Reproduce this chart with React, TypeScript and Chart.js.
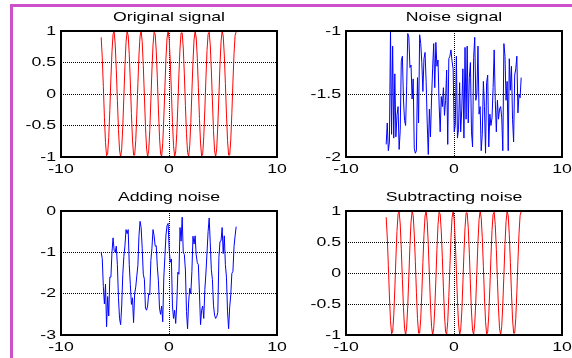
import React, { useEffect, useRef } from "react";
import { Chart, registerables } from "chart.js";

Chart.register(...registerables);

// ---- data ----
const xValues = [
  -6.28, -6.18, -6.08, -5.98, -5.88, -5.78, -5.68, -5.58, -5.48, -5.38,
  -5.28, -5.18, -5.08, -4.98, -4.88, -4.78, -4.68, -4.58, -4.48, -4.38,
  -4.28, -4.18, -4.08, -3.98, -3.88, -3.78, -3.68, -3.58, -3.48, -3.38,
  -3.28, -3.18, -3.08, -2.98, -2.88, -2.78, -2.68, -2.58, -2.48, -2.38,
  -2.28, -2.18, -2.08, -1.98, -1.88, -1.78, -1.68, -1.58, -1.48, -1.38,
  -1.28, -1.18, -1.08, -0.98, -0.88, -0.78, -0.68, -0.58, -0.48, -0.38,
  -0.28, -0.18, -0.08, 0.02, 0.12, 0.22, 0.32, 0.42, 0.52, 0.62,
  0.72, 0.82, 0.92, 1.02, 1.12, 1.22, 1.32, 1.42, 1.52, 1.62,
  1.72, 1.82, 1.92, 2.02, 2.12, 2.22, 2.32, 2.42, 2.52, 2.62,
  2.72, 2.82, 2.92, 3.02, 3.12, 3.22, 3.32, 3.42, 3.52, 3.62,
  3.72, 3.82, 3.92, 4.02, 4.12, 4.22, 4.32, 4.42, 4.52, 4.62,
  4.72, 4.82, 4.92, 5.02, 5.12, 5.22, 5.32, 5.42, 5.52, 5.62,
  5.72, 5.82, 5.92, 6.02, 6.12, 6.22,
];

const originalSignal = [
  0.9, 0.58, 0.12, -0.37, -0.77, -0.98, -0.95, -0.69, -0.26, 0.24,
  0.67, 0.95, 0.99, 0.79, 0.39, -0.1, -0.56, -0.89, -1.0, -0.87,
  -0.52, -0.05, 0.44, 0.82, 0.99, 0.93, 0.63, 0.19, -0.31, -0.73,
  -0.97, -0.97, -0.74, -0.32, 0.17, 0.62, 0.92, 1.0, 0.83, 0.45,
  -0.03, -0.51, -0.86, -1.0, -0.9, -0.58, -0.11, 0.38, 0.78, 0.98,
  0.95, 0.68, 0.25, -0.24, -0.68, -0.95, -0.99, -0.78, -0.38, 0.1,
  0.57, 0.89, 1.0, 0.86, 0.51, 0.04, -0.45, -0.82, -0.99, -0.92,
  -0.63, -0.18, 0.32, 0.73, 0.97, 0.97, 0.73, 0.32, -0.18, -0.63,
  -0.93, -0.99, -0.82, -0.45, 0.04, 0.51, 0.86, 1.0, 0.89, 0.57,
  0.1, -0.39, -0.78, -0.99, -0.95, -0.68, -0.24, 0.25, 0.69, 0.95,
  0.98, 0.78, 0.38, -0.11, -0.58, -0.9, -1.0, -0.86, -0.5, -0.03,
  0.46, 0.83, 1.0, 0.92, 0.62, 0.17, -0.32, -0.74, -0.97, -0.97,
  -0.73, -0.31, 0.19, 0.64, 0.93, 0.99,
];

const noiseSignal = [
  -1.9, -1.73, -1.95, -1.88, -1.0, -1.82, -1.12, -1.85, -1.34, -1.84,
  -1.67, -1.6, -1.94, -1.79, -1.24, -1.2, -1.54, -1.71, -1.75, -1.43,
  -1.02, -1.05, -1.29, -1.27, -1.54, -1.38, -1.93, -1.97, -1.95, -1.37,
  -1.73, -1.03, -1.1, -1.25, -1.48, -1.22, -1.17, -1.4, -1.73, -1.98,
  -1.62, -1.84, -1.54, -1.3, -1.1, -1.45, -1.09, -1.28, -1.23, -1.58,
  -1.8, -1.52, -1.6, -1.45, -1.67, -1.55, -1.31, -1.9, -1.22, -1.2,
  -1.15, -1.24, -1.3, -1.8, -1.75, -1.2, -1.85, -1.78, -1.41, -1.8,
  -1.62, -1.3, -1.85, -1.13, -1.7, -1.12, -1.73, -1.37, -1.25, -1.8,
  -1.92, -1.21, -1.05, -1.55, -1.5, -1.12, -1.66, -1.6, -1.95, -1.82,
  -1.4, -1.6, -1.97, -1.41, -1.35, -1.92, -1.66, -1.75, -1.69, -1.45,
  -1.15, -1.55, -1.8, -1.55, -1.7, -1.62, -1.6, -1.69, -1.95, -1.1,
  -1.2, -1.55, -1.4, -1.95, -1.22, -1.47, -1.28, -1.7, -1.88, -1.35,
  -1.3, -1.2, -1.65, -1.5, -1.53, -1.37,
];

const addedSignal = [
  -1.0, -1.15, -1.83, -2.25, -1.77, -2.8, -2.07, -2.54, -1.6, -1.6,
  -1.0, -0.65, -0.95, -1.0, -0.85, -1.3, -2.1, -2.6, -2.75, -2.3,
  -1.54, -1.1, -0.85, -0.45, -0.55, -0.45, -1.3, -1.78, -2.26, -2.1,
  -2.7, -2.0, -1.84, -1.57, -1.31, -0.6, -0.25, -0.4, -0.9, -1.53,
  -1.65, -2.35, -2.4, -2.3, -2.0, -2.03, -1.2, -0.9, -0.45, -0.6,
  -0.85, -0.84, -1.35, -1.69, -2.35, -2.5, -2.3, -2.68, -1.6, -1.1,
  -0.58, -0.35, -0.3, -0.94, -1.24, -1.16, -2.3, -2.6, -2.4, -2.72,
  -2.25, -1.48, -1.53, -0.4, -0.73, -0.15, -1.0, -1.05, -1.43, -2.43,
  -2.85, -2.2, -1.87, -2.0, -1.46, -0.61, -0.8, -0.6, -1.06, -1.25,
  -1.3, -1.99, -2.75, -2.4, -2.3, -2.6, -1.9, -1.5, -1.0, -0.5,
  -0.17, -0.77, -1.42, -1.66, -2.28, -2.52, -2.6, -2.55, -2.45, -1.13,
  -0.74, -0.72, -0.4, -1.03, -0.6, -1.3, -1.6, -2.44, -2.85, -2.32,
  -2.03, -1.51, -1.46, -0.86, -0.6, -0.38,
];

const recoveredSignal = [
  0.9, 0.58, 0.12, -0.37, -0.77, -0.98, -0.95, -0.69, -0.26, 0.24,
  0.67, 0.95, 0.99, 0.79, 0.39, -0.1, -0.56, -0.89, -1.0, -0.87,
  -0.52, -0.05, 0.44, 0.82, 0.99, 0.93, 0.63, 0.19, -0.31, -0.73,
  -0.97, -0.97, -0.74, -0.32, 0.17, 0.62, 0.92, 1.0, 0.83, 0.45,
  -0.03, -0.51, -0.86, -1.0, -0.9, -0.58, -0.11, 0.38, 0.78, 0.98,
  0.95, 0.68, 0.25, -0.24, -0.68, -0.95, -0.99, -0.78, -0.38, 0.1,
  0.57, 0.89, 1.0, 0.86, 0.51, 0.04, -0.45, -0.82, -0.99, -0.92,
  -0.63, -0.18, 0.32, 0.73, 0.97, 0.97, 0.73, 0.32, -0.18, -0.63,
  -0.93, -0.99, -0.82, -0.45, 0.04, 0.51, 0.86, 1.0, 0.89, 0.57,
  0.1, -0.39, -0.78, -0.99, -0.95, -0.68, -0.24, 0.25, 0.69, 0.95,
  0.98, 0.78, 0.38, -0.11, -0.58, -0.9, -1.0, -0.86, -0.5, -0.03,
  0.46, 0.83, 1.0, 0.92, 0.62, 0.17, -0.32, -0.74, -0.97, -0.97,
  -0.73, -0.31, 0.19, 0.64, 0.93, 0.99,
];

const xTickValues = [-10, 0, 10];
const unitTicks = [-1, -0.5, 0, 0.5, 1];
const noiseTicks = [-2, -1.5, -1];
const addedTicks = [-3, -2, -1, 0];

const titles = ["Original signal", "Noise signal", "Adding noise", "Subtracting noise"];

// ---- layout / style ----
const W = 572;
const H = 358;
const TEXT_SX = 1.36;
const FONT = "13px 'Liberation Sans', Arial, Helvetica, sans-serif";

type Panel = {
  title: string;
  values: number[];
  color: string;
  yTicks: number[];
  pad: { left: number; top: number; right: number; bottom: number };
};

const panels: Panel[] = [
  { title: titles[0], values: originalSignal, color: "#ff0000", yTicks: unitTicks, pad: { left: 61, top: 31, right: W - 277, bottom: H - 157 } },
  { title: titles[1], values: noiseSignal, color: "#0000ff", yTicks: noiseTicks, pad: { left: 346, top: 31, right: W - 562, bottom: H - 157 } },
  { title: titles[2], values: addedSignal, color: "#0000ff", yTicks: addedTicks, pad: { left: 61, top: 211, right: W - 277, bottom: H - 335 } },
  { title: titles[3], values: recoveredSignal, color: "#ff0000", yTicks: unitTicks, pad: { left: 346, top: 211, right: W - 562, bottom: H - 335 } },
];

function stretchedText(
  ctx: CanvasRenderingContext2D,
  text: string,
  x: number,
  y: number,
  align: CanvasTextAlign,
  baseline: CanvasTextBaseline
) {
  ctx.save();
  ctx.translate(x, y);
  ctx.scale(TEXT_SX, 1);
  ctx.textAlign = align;
  ctx.textBaseline = baseline;
  ctx.fillText(text, 0, 0);
  ctx.restore();
}

const framePlugin = {
  id: "matlabFrame",
  afterDraw(chart: any, _args: any, opts: any) {
    const { ctx, chartArea: a, scales } = chart;
    ctx.save();
    ctx.strokeStyle = "#000";
    ctx.lineWidth = 2;
    ctx.setLineDash([]);
    ctx.strokeRect(a.left, a.top, a.right - a.left, a.bottom - a.top);
    ctx.fillStyle = "#000";
    ctx.font = FONT;
    scales.y.ticks.forEach((t: any) => {
      stretchedText(ctx, String(t.value), a.left - 5, scales.y.getPixelForValue(t.value), "right", "middle");
    });
    scales.x.ticks.forEach((t: any) => {
      stretchedText(ctx, String(t.value), scales.x.getPixelForValue(t.value), a.bottom + 12, "center", "middle");
    });
    stretchedText(ctx, opts.title, (a.left + a.right) / 2, a.top - 10, "center", "alphabetic");
    ctx.restore();
  },
};

function SubPlot({ panel }: { panel: Panel }) {
  const ref = useRef<HTMLCanvasElement | null>(null);
  useEffect(() => {
    if (!ref.current) return;
    const yt = panel.yTicks;
    const chart = new Chart(ref.current, {
      type: "line",
      data: {
        datasets: [
          {
            data: xValues.map((x, i) => ({ x, y: panel.values[i] })),
            borderColor: panel.color,
            borderWidth: 1,
            pointRadius: 0,
            tension: 0,
            fill: false,
          },
        ],
      },
      options: {
        animation: false,
        responsive: false,
        events: [],
        layout: { padding: panel.pad },
        plugins: {
          legend: { display: false },
          tooltip: { enabled: false },
          title: { display: false },
          matlabFrame: { title: panel.title },
        } as any,
        scales: {
          x: {
            type: "linear",
            min: xTickValues[0],
            max: xTickValues[xTickValues.length - 1],
            afterBuildTicks: (s: any) => {
              s.ticks = xTickValues.map((v) => ({ value: v }));
            },
            afterFit: (s: any) => {
              s.height = 0;
              s.paddingLeft = 0;
              s.paddingRight = 0;
            },
            ticks: { display: false },
            grid: { color: "#000", lineWidth: 1, drawTicks: false },
            border: { display: false, dash: [1, 1] },
          },
          y: {
            type: "linear",
            min: yt[0],
            max: yt[yt.length - 1],
            afterBuildTicks: (s: any) => {
              s.ticks = yt.map((v) => ({ value: v }));
            },
            afterFit: (s: any) => {
              s.width = 0;
              s.paddingTop = 0;
              s.paddingBottom = 0;
            },
            ticks: { display: false },
            grid: { color: "#000", lineWidth: 1, drawTicks: false },
            border: { display: false, dash: [1, 1] },
          },
        },
      } as any,
      plugins: [framePlugin],
    });
    return () => chart.destroy();
  }, [panel]);
  return (
    <canvas
      ref={ref}
      width={W}
      height={H}
      style={{ position: "absolute", left: 0, top: 0, width: W, height: H, display: "block" }}
    />
  );
}

export default function App() {
  return (
    <div style={{ position: "absolute", left: 0, top: 0, width: W, height: H, background: "#fff", overflow: "hidden" }}>
      <div
        style={{
          position: "absolute",
          left: 10,
          top: 4,
          width: W,
          height: H,
          borderTop: "3px solid #cc4fcc",
          borderLeft: "3px solid #cc4fcc",
        }}
      />
      {panels.map((p) => (
        <SubPlot key={p.title} panel={p} />
      ))}
    </div>
  );
}
